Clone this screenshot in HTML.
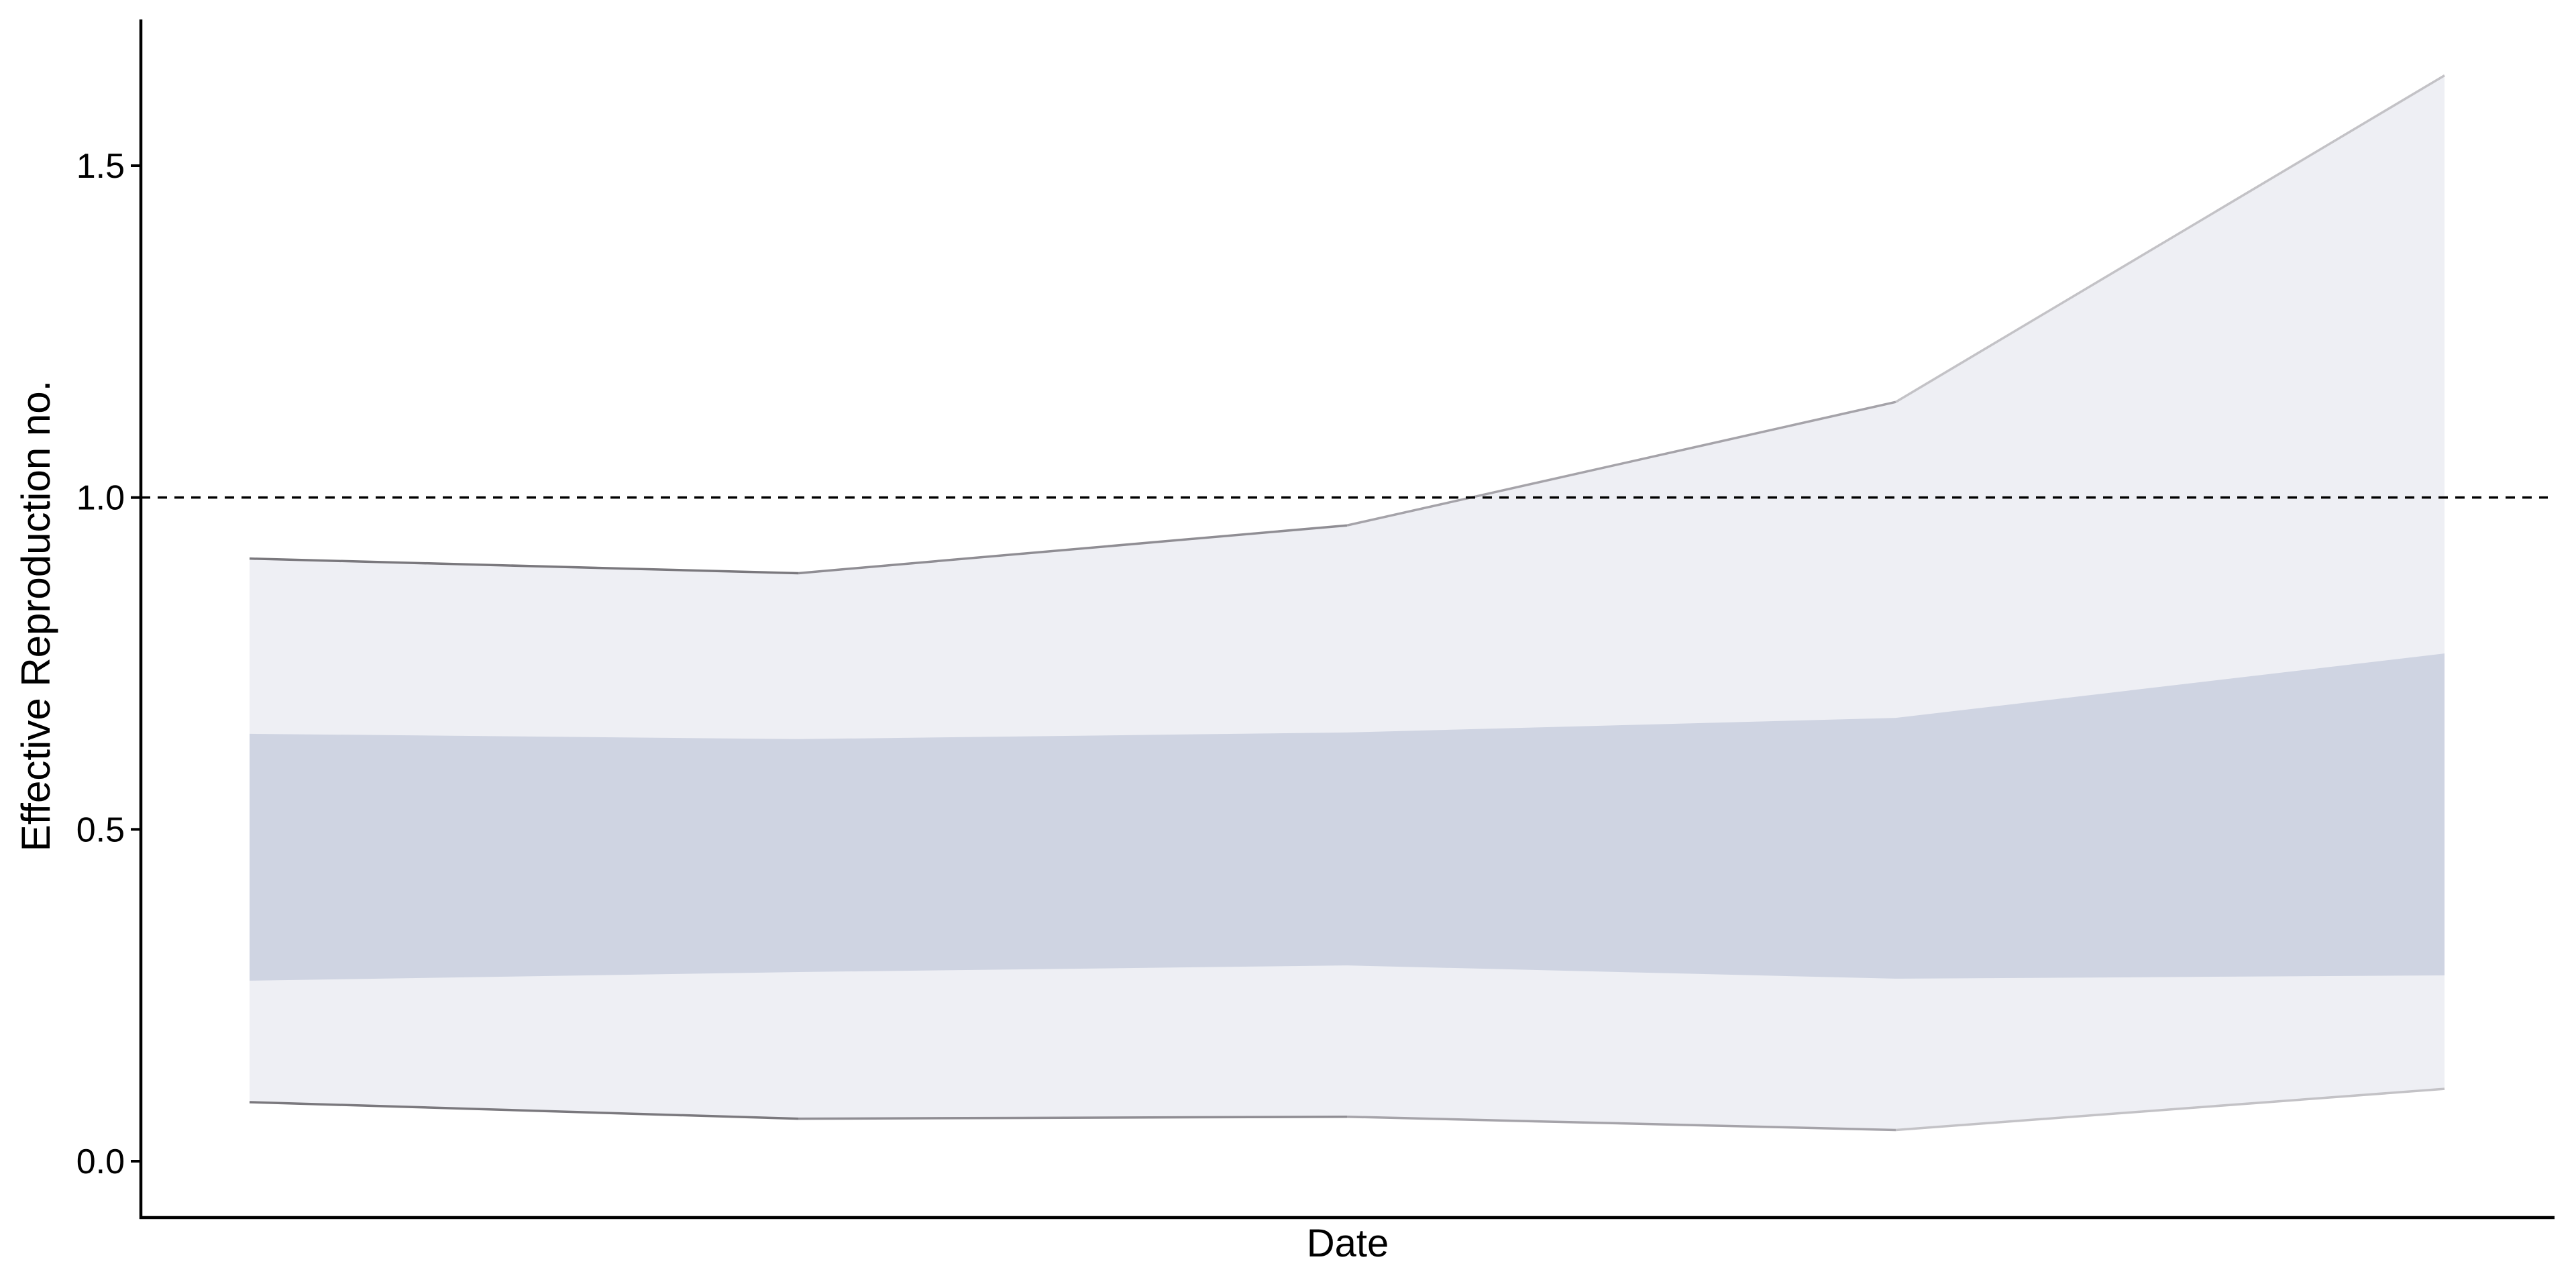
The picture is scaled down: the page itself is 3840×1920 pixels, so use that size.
<!DOCTYPE html>
<html><head><meta charset="utf-8">
<style>html,body{margin:0;padding:0;background:#fff;}svg{display:block;font-family:"Liberation Sans",sans-serif;}</style>
</head><body>
<svg id="chart" width="3840" height="1920" viewBox="0 0 3840 1920" xmlns="http://www.w3.org/2000/svg"></svg>
<script>
const categories = ["d1","d2","d3","d4","d5"];
const outerUpper = [0.908, 0.886, 0.958, 1.144, 1.636];
const outerLower = [0.089, 0.064, 0.067, 0.047, 0.109];
const innerUpper = [0.644, 0.636, 0.646, 0.668, 0.765];
const innerLower = [0.272, 0.285, 0.295, 0.275, 0.280];
const yTicks = [0, 0.5, 1.0, 1.5];
const yTickLabels = ["0.0","0.5","1.0","1.5"];
const threshold = 1.0;

const NS="http://www.w3.org/2000/svg";
const svg=document.getElementById('chart');
const X0=372, X1=3644, axL=210, axB=1815, axT=29, axR=3808;
function xs(i){return X0+(X1-X0)*i/(categories.length-1);}
function ys(v){return 1731-(1731-247)*v/1.5;}
function mk(tag,attrs){const e=document.createElementNS(NS,tag);for(const k in attrs)e.setAttribute(k,attrs[k]);svg.appendChild(e);return e;}
function band(up,lo,fill,name){
  let d="";
  up.forEach((v,i)=>{d+=(i?"L":"M")+xs(i)+","+ys(v);});
  for(let i=lo.length-1;i>=0;i--)d+="L"+xs(i)+","+ys(lo[i]);
  const p=mk('path',{d:d+"Z",fill:fill});
  
  
}
band(outerUpper,outerLower,"#eeeff4","outer-interval-band");
band(innerUpper,innerLower,"#cfd4e2","inner-interval-band");
const segColors=["#7a787d","#8f8d93","#a5a3a9","#c3c2c6"];
[outerUpper,outerLower].forEach((arr,k)=>{
  for(let i=0;i<arr.length-1;i++){
    const l=mk('line',{x1:xs(i),y1:ys(arr[i]),x2:xs(i+1),y2:ys(arr[i+1]),stroke:segColors[i],"stroke-width":3.5});
    
    
  }
});
const dl=mk('line',{x1:axL,y1:ys(threshold),x2:3798,y2:ys(threshold),stroke:"#000","stroke-width":3.5,"stroke-dasharray":"14,11"});


const ya=mk('line',{x1:axL,y1:axT,x2:axL,y2:axB+2,stroke:"#000","stroke-width":4.5});


const xa=mk('line',{x1:axL-2,y1:axB,x2:axR,y2:axB,stroke:"#000","stroke-width":4.5});


yTicks.forEach((v,i)=>{
  const t=mk('line',{x1:axL-15,y1:ys(v),x2:axL,y2:ys(v),stroke:"#000","stroke-width":4});
  
  
  const tx=mk('text',{x:186,y:ys(v)+18,"text-anchor":"end","font-size":52,fill:"#000"});
  tx.textContent=yTickLabels[i];
  
  
});
const xt=mk('text',{x:2009,y:1873,"text-anchor":"middle","font-size":58,fill:"#000"});
xt.textContent="Date";


const yt=mk('text',{x:0,y:0,"text-anchor":"middle","font-size":60,fill:"#000",transform:"translate(74,918) rotate(-90)"});
yt.textContent="Effective Reproduction no.";


</script>
</body></html>
